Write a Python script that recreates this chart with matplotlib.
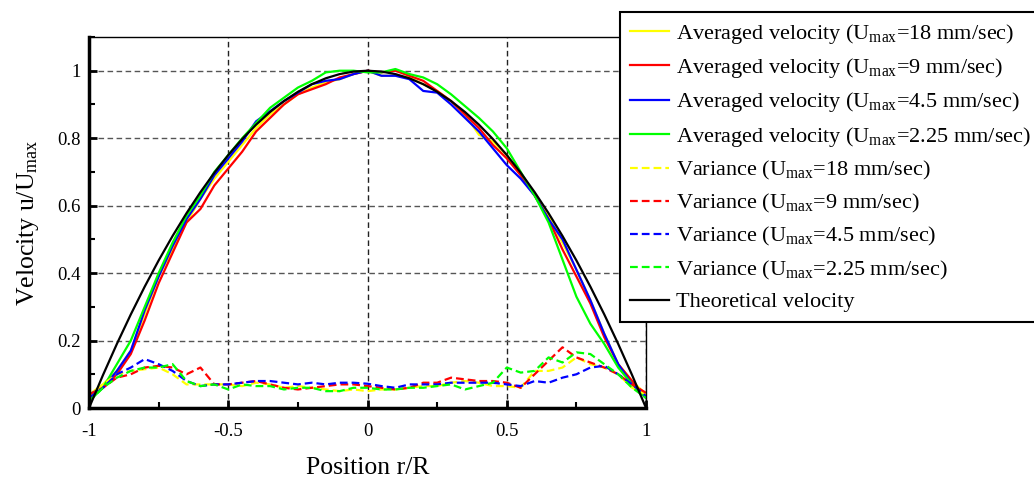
#!/usr/bin/env python3

import matplotlib
matplotlib.use('Agg')
import matplotlib.pyplot as plt
from matplotlib.ticker import MultipleLocator, FormatStrFormatter

plt.rcParams.update({'font.family': 'Liberation Serif',
                     'mathtext.fontset': 'custom',
                     'mathtext.rm': 'Liberation Serif',
                     'mathtext.it': 'Liberation Serif:italic'})

# radial position r/R
position = [-1.00, -0.95, -0.90, -0.85, -0.80, -0.75, -0.70, -0.65, -0.60, -0.55,
            -0.50, -0.45, -0.40, -0.35, -0.30, -0.25, -0.20, -0.15, -0.10, -0.05,
            0.00, 0.05, 0.10, 0.15, 0.20, 0.25, 0.30, 0.35, 0.40, 0.45,
            0.50, 0.55, 0.60, 0.65, 0.70, 0.75, 0.80, 0.85, 0.90, 0.95, 1.00]

vel_18 = [0.04, 0.07, 0.11, 0.17, 0.28, 0.39, 0.47, 0.55, 0.62, 0.68,
          0.73, 0.78, 0.83, 0.87, 0.90, 0.93, 0.95, 0.965, 0.975, 0.99,
          1.00, 0.985, 0.985, 0.98, 0.96, 0.94, 0.91, 0.87, 0.81, 0.79,
          0.75, 0.69, 0.63, 0.57, 0.49, 0.41, 0.32, 0.22, 0.13, 0.08, 0.04]
vel_9 = [0.03, 0.06, 0.10, 0.16, 0.26, 0.37, 0.46, 0.55, 0.59, 0.66,
         0.71, 0.76, 0.82, 0.86, 0.90, 0.93, 0.945, 0.96, 0.98, 0.99,
         1.00, 0.995, 1.00, 0.985, 0.97, 0.94, 0.91, 0.87, 0.83, 0.78,
         0.74, 0.69, 0.63, 0.56, 0.47, 0.39, 0.31, 0.21, 0.13, 0.08, 0.03]
vel_45 = [0.04, 0.06, 0.11, 0.17, 0.29, 0.39, 0.48, 0.56, 0.62, 0.69,
          0.74, 0.79, 0.85, 0.88, 0.91, 0.935, 0.96, 0.97, 0.975, 0.99,
          1.00, 0.985, 0.985, 0.975, 0.94, 0.935, 0.90, 0.86, 0.82, 0.77,
          0.72, 0.68, 0.63, 0.56, 0.50, 0.41, 0.32, 0.22, 0.13, 0.07, 0.03]
vel_225 = [0.02, 0.06, 0.13, 0.20, 0.30, 0.40, 0.49, 0.57, 0.63, 0.70,
           0.75, 0.80, 0.845, 0.89, 0.92, 0.95, 0.97, 0.995, 1.00, 1.00,
           0.995, 0.995, 1.005, 0.99, 0.98, 0.96, 0.93, 0.895, 0.86, 0.82,
           0.77, 0.70, 0.63, 0.55, 0.44, 0.33, 0.25, 0.19, 0.12, 0.07, 0.03]

var_18 = [0.03, 0.07, 0.10, 0.11, 0.115, 0.12, 0.10, 0.07, 0.07, 0.07,
          0.07, 0.065, 0.075, 0.07, 0.06, 0.065, 0.06, 0.055, 0.05, 0.055,
          0.05, 0.055, 0.055, 0.06, 0.065, 0.065, 0.075, 0.08, 0.075, 0.065,
          0.065, 0.06, 0.11, 0.11, 0.12, 0.15, 0.13, 0.12, 0.10, 0.06, 0.04]
var_9 = [0.04, 0.06, 0.09, 0.10, 0.12, 0.125, 0.12, 0.10, 0.12, 0.07,
         0.07, 0.075, 0.08, 0.07, 0.06, 0.055, 0.06, 0.065, 0.07, 0.07,
         0.065, 0.06, 0.055, 0.06, 0.075, 0.075, 0.09, 0.085, 0.08, 0.08,
         0.075, 0.06, 0.10, 0.14, 0.18, 0.15, 0.135, 0.12, 0.10, 0.07, 0.045]
var_45 = [0.03, 0.06, 0.10, 0.12, 0.145, 0.13, 0.11, 0.08, 0.065, 0.07,
          0.07, 0.075, 0.08, 0.08, 0.075, 0.07, 0.075, 0.07, 0.075, 0.075,
          0.072, 0.065, 0.06, 0.07, 0.07, 0.07, 0.075, 0.075, 0.075, 0.075,
          0.07, 0.065, 0.08, 0.075, 0.09, 0.10, 0.12, 0.125, 0.10, 0.07, 0.035]
var_225 = [0.02, 0.06, 0.09, 0.11, 0.12, 0.12, 0.13, 0.08, 0.065, 0.07,
           0.055, 0.07, 0.065, 0.065, 0.055, 0.06, 0.06, 0.05, 0.05, 0.06,
           0.06, 0.055, 0.055, 0.06, 0.06, 0.065, 0.07, 0.055, 0.065, 0.075,
           0.12, 0.105, 0.11, 0.15, 0.135, 0.165, 0.16, 0.13, 0.10, 0.06, 0.03]

theory = [0.0, 0.0975, 0.19, 0.2775, 0.36, 0.4375, 0.51, 0.5775, 0.64, 0.6975,
          0.75, 0.7975, 0.84, 0.8775, 0.91, 0.9375, 0.96, 0.9775, 0.99, 0.9975,
          1.0, 0.9975, 0.99, 0.9775, 0.96, 0.9375, 0.91, 0.8775, 0.84, 0.7975,
          0.75, 0.6975, 0.64, 0.5775, 0.51, 0.4375, 0.36, 0.2775, 0.19, 0.0975, 0.0]

speeds = ['18', '9', '4.5', '2.25']
colors = ['#ffff00', '#ff0000', '#0000ff', '#00ff00']
vels = [vel_18, vel_9, vel_45, vel_225]
vars_ = [var_18, var_9, var_45, var_225]

fig = plt.figure(figsize=(10.34, 4.79), dpi=100)
ax = fig.add_axes([0.0861, 0.1482, 0.5387, 0.7746])

for s, c, v in zip(speeds, colors, vels):
  ax.plot(position, v, color=c, lw=1.6,
          label=r'Averaged velocity (U$_{\rm max}$=%s mm/sec)' % s)
for s, c, v in zip(speeds, colors, vars_):
  ax.plot(position, v, color=c, lw=1.6, dashes=(3.5, 1.8),
          label=r'Variance (U$_{\rm max}$=%s mm/sec)' % s)
ax.plot(position, theory, color='black', lw=1.6, label='Theoretical velocity')

ax.set_xlim(-1, 1)
ax.set_ylim(0, 1.1)
ax.xaxis.set_major_locator(MultipleLocator(0.5))
ax.xaxis.set_minor_locator(MultipleLocator(0.25))
ax.yaxis.set_major_locator(MultipleLocator(0.2))
ax.yaxis.set_minor_locator(MultipleLocator(0.1))
ax.xaxis.set_major_formatter(FormatStrFormatter('%g'))
ax.yaxis.set_major_formatter(FormatStrFormatter('%g'))
ax.tick_params(which='both', direction='in', labelsize=13.5)
ax.tick_params(which='major', length=6, width=2)
ax.tick_params(which='minor', length=4, width=1.5)
ax.tick_params(axis='x', pad=11)
ax.tick_params(axis='y', pad=6)

ax.grid(True, axis='y', which='major', linestyle=(0, (4, 2.5)), color='#555555', lw=1)
ax.grid(True, axis='x', which='major', linestyle=(0, (4, 2.5)), color='#222222', lw=1)
ax.set_axisbelow(True)

ax.spines['left'].set_linewidth(2.5)
ax.spines['bottom'].set_linewidth(2.5)
ax.spines['top'].set_linewidth(1)
ax.spines['right'].set_linewidth(1)

ax.set_xlabel('Position r/R', fontsize=18.5, labelpad=12)
ax.set_ylabel(r'Velocity u/U$_{\rm max}$', fontsize=18.5, labelpad=12)

leg = fig.legend(loc='upper left', bbox_to_anchor=(0.5996, 0.975), fontsize=16,
                 frameon=True, fancybox=False, edgecolor='black', framealpha=1,
                 handlelength=1.75, handletextpad=0.33, labelspacing=0.46,
                 borderpad=0.45, borderaxespad=0)
leg.get_frame().set_linewidth(1.5)

plt.savefig('out.png', dpi=100)
plt.close()
